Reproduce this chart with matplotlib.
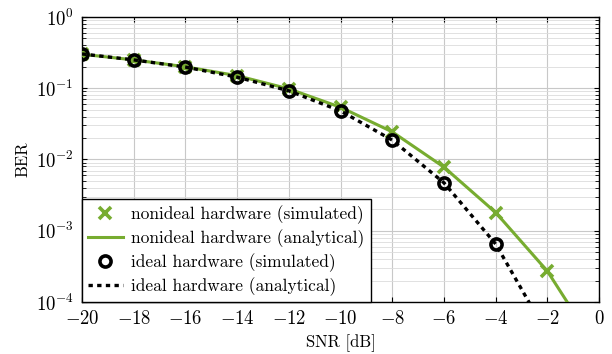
import numpy as np
import matplotlib
matplotlib.use('Agg')
import matplotlib.pyplot as plt

plt.rcParams['font.family'] = 'cmr10'
plt.rcParams['mathtext.fontset'] = 'cm'
plt.rcParams['axes.formatter.use_mathtext'] = True

# simulated points
snr_sim = [-20, -18, -16, -14, -12, -10, -8, -6, -4, -2]
ber_nonideal_sim = [0.30, 0.25, 0.20, 0.15, 0.098, 0.054, 0.0244, 0.0078, 0.0018, 0.00027]
snr_ideal_sim = [-20, -18, -16, -14, -12, -10, -8, -6, -4]
ber_ideal_sim = [0.303, 0.25, 0.198, 0.143, 0.092, 0.048, 0.0187, 0.0047, 0.00065]

# analytical curves
snr_ana = [-20, -18, -16, -14, -12, -10, -8, -6, -4, -2, 0]
ber_nonideal_ana = [0.30, 0.25, 0.20, 0.15, 0.098, 0.054, 0.0244, 0.0078, 0.0018, 0.00027, 2e-5]
ber_ideal_ana = [0.303, 0.25, 0.198, 0.143, 0.092, 0.048, 0.0187, 0.0047, 0.00065, 3.5e-5, 1e-6]

green = '#77AC30'

fig = plt.figure(figsize=(6.12, 3.54), dpi=100)
ax = fig.add_axes([0.134, 0.147, 0.845, 0.805])

ax.plot(snr_sim, ber_nonideal_sim, 'x', color=green, ms=8.5, mew=2.6,
        label='nonideal hardware (simulated)', zorder=4)
ax.plot(snr_ana, ber_nonideal_ana, '-', color=green, lw=2.2,
        label='nonideal hardware (analytical)', zorder=3)
ax.plot(snr_ideal_sim, ber_ideal_sim, 'o', mfc='none', mec='black', ms=8, mew=2.6,
        label='ideal hardware (simulated)', zorder=5)
ax.plot(snr_ana, ber_ideal_ana, color='black', lw=2.4, dashes=(1.3, 1.3),
        label='ideal hardware (analytical)', zorder=4)

ax.set_yscale('log')
ax.set_xlim(-20, 0)
ax.set_ylim(1e-4, 1)
ax.set_xticks(range(-20, 1, 2))
ax.set_yticks([1e-4, 1e-3, 1e-2, 1e-1, 1])
ax.grid(True, which='major', color='#c8c8c8', lw=0.8)
ax.grid(True, which='minor', axis='y', color='#dcdcdc', lw=0.6)
ax.tick_params(which='both', direction='in', top=True, right=True, labelsize=13.5)
ax.tick_params(axis='x', pad=6)
ax.tick_params(axis='y', pad=6)
ax.tick_params(which='minor', length=3)
ax.set_axisbelow(True)
for s in ax.spines.values():
    s.set_linewidth(1.0)

ax.set_xlabel('SNR [dB]', fontsize=12, labelpad=4)
ax.set_ylabel('BER', fontsize=12, labelpad=4)

leg = ax.legend(loc='lower left', fontsize=12.5, fancybox=False, framealpha=1,
                edgecolor='black', borderaxespad=0, handlelength=2.0,
                labelspacing=0.3, borderpad=0.35, handletextpad=0.5)
leg.get_frame().set_linewidth(1.0)

fig.savefig('out.png', dpi=100)
